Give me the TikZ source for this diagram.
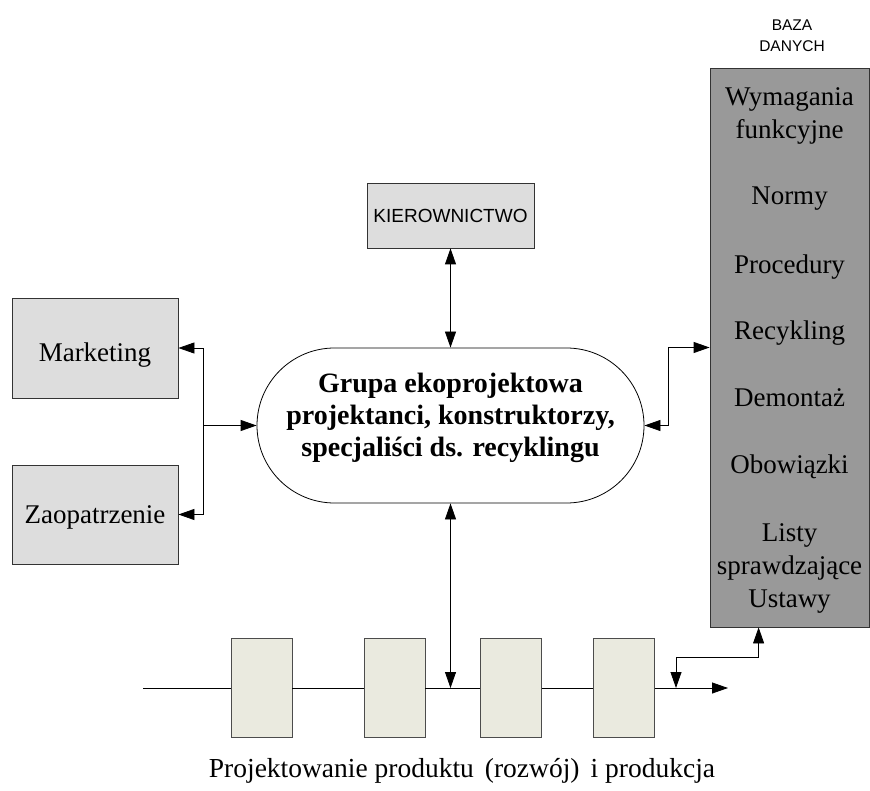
\documentclass[tikz,border=0pt]{standalone}
\usepackage{fontspec}
\setmainfont{Liberation Serif}
\newfontfamily\sansfont{Liberation Sans}
\usetikzlibrary{positioning,arrows.meta,shapes.misc}
\definecolor{boxgray}{HTML}{DDDDDD}
\definecolor{dbgray}{HTML}{999999}
\definecolor{procfill}{HTML}{EAEADF}

\begin{document}
\begin{tikzpicture}[x=1pt,y=-1pt,line width=0.8pt,>={Triangle[length=16pt,width=11pt]},every node/.style={shape=rectangle,align=center,inner sep=0},dept/.style={draw=black!80,fill=boxgray,minimum width=166pt,font=\fontsize{27}{33}\selectfont},proc/.style={draw=black!70,fill=procfill,minimum width=61pt,minimum height=99pt}]

\useasboundingbox (0,0) rectangle (870,791);

\node [dept, minimum height=100pt, text height=28pt, text depth=0pt] (mark) at (95,348) {Marketing};
\node [dept, minimum height=99pt, text height=19pt, text depth=2pt] (zaop) at (95,514.5) {Zaopatrzenie};
\node [draw=black!80, fill=boxgray, minimum width=167pt, minimum height=65pt, font=\sansfont\fontsize{19}{22}\selectfont] (kier) at (450.5,215.5) {KIEROWNICTWO};
\node [rounded rectangle, draw, fill=white, minimum width=387pt, minimum height=155pt, text depth=22pt, font=\bfseries\fontsize{28}{32}\selectfont] (grupa) at (450.5,425.5) {Grupa ekoprojektowa\\projektanci, konstruktorzy,\\specjaliści ds. recyklingu};
\node [draw=black!80, fill=dbgray, minimum width=159pt, minimum height=559pt, text depth=0pt, font=\fontsize{27}{33}\selectfont] (baza) at (789.5,347.5) {Wymagania\\funkcyjne\\[33pt]Normy\\[36pt]Procedury\\[33pt]Recykling\\[34pt]Demontaż\\[34pt]Obowiązki\\[35pt]Listy\\sprawdzające\\Ustawy};
\node [font=\sansfont\fontsize{15.5}{21}\selectfont] (bazalbl) at (792,36) {BAZA\\DANYCH};

\node [proc] (p1) at (261.5,688) {};
\node [proc] (p2) at (394.5,688) {};
\node [proc] (p3) at (511,688) {};
\node [proc] (p4) at (624,688) {};
\node [anchor=base, font=\fontsize{27.5}{33}\selectfont] (caption) at (462,777) {Projektowanie produktu\hspace{0.4em}(rozwój)\hspace{0.4em}i produkcja};

\coordinate (fork) at (203,425.5);
\coordinate (start) at (143,688);
\coordinate (end) at (728,688);
\coordinate (tap) at (676,688);
\coordinate (dbin) at ([xshift=49pt]baza.south west);

  \draw[->] (fork) -- (grupa.west);
  \draw[->] (fork) |- (mark.east);
  \draw[->] (fork) |- (zaop.east);
  \draw[<->] (kier) -- (grupa);
  \draw[<->] (grupa.east) -- ++(24,0) |- (baza.west);
  \draw[<->] (grupa.south) -- (grupa.south |- start);
  \draw (start) -- (p1);
  \draw (p1) -- (p2);
  \draw (p2) -- (p3);
  \draw (p3) -- (p4);
  \draw[->] (p4) -- (end);
  \draw[<->] (tap) -- ++(0,-31) -| (dbin);

\end{tikzpicture}
\end{document}
